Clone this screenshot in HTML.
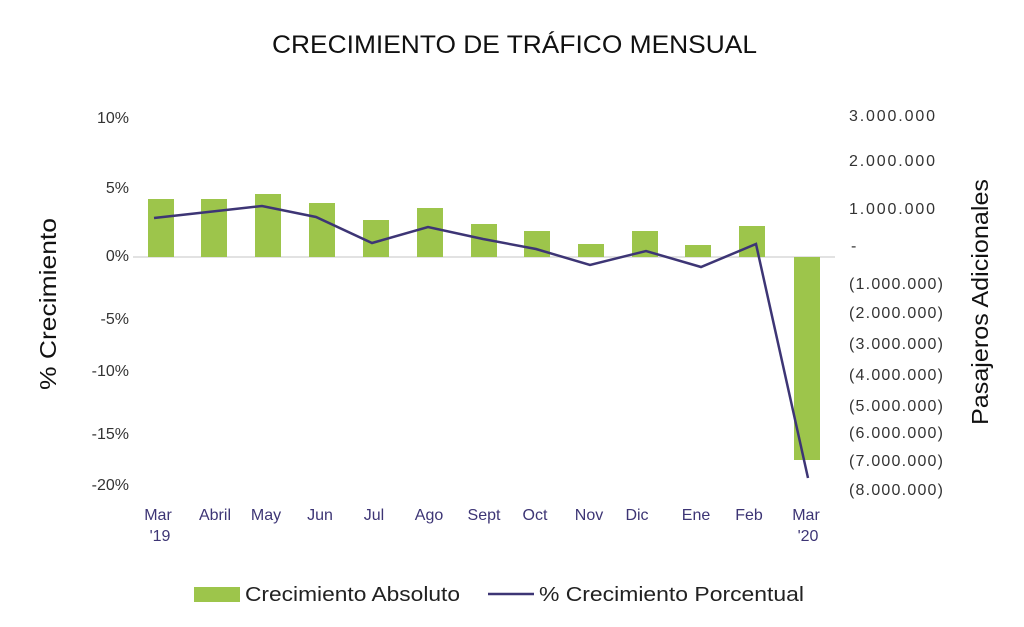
<!DOCTYPE html>
<html><head><meta charset="utf-8"><style>
html,body{margin:0;padding:0;background:#fff}
svg{display:block}
text{font-family:"Liberation Sans",sans-serif}
</style></head><body>
<svg width="1024" height="627" viewBox="0 0 1024 627" xmlns="http://www.w3.org/2000/svg">
<text x="272" y="53" font-size="25" fill="#111" textLength="485" lengthAdjust="spacingAndGlyphs">CRECIMIENTO DE TRÁFICO MENSUAL</text>
<g font-size="16" fill="#333" text-anchor="end">
<text x="129" y="123">10%</text>
<text x="129" y="193">5%</text>
<text x="129" y="261">0%</text>
<text x="129" y="324">-5%</text>
<text x="129" y="376">-10%</text>
<text x="129" y="439">-15%</text>
<text x="129" y="490">-20%</text>
</g>
<g font-size="16" fill="#333" lengthAdjust="spacingAndGlyphs">
<text x="849" y="121" textLength="86">3.000.000</text>
<text x="849" y="166" textLength="86">2.000.000</text>
<text x="849" y="214" textLength="86">1.000.000</text>
<text x="851" y="251">-</text>
<text x="849" y="289" textLength="94">(1.000.000)</text>
<text x="849" y="318" textLength="94">(2.000.000)</text>
<text x="849" y="349" textLength="94">(3.000.000)</text>
<text x="849" y="380" textLength="94">(4.000.000)</text>
<text x="849" y="411" textLength="94">(5.000.000)</text>
<text x="849" y="438" textLength="94">(6.000.000)</text>
<text x="849" y="466" textLength="94">(7.000.000)</text>
<text x="849" y="495" textLength="94">(8.000.000)</text>
</g>
<text transform="translate(56,304) rotate(-90)" text-anchor="middle" font-size="23" fill="#111" textLength="172" lengthAdjust="spacingAndGlyphs">% Crecimiento</text>
<text transform="translate(988,302) rotate(-90)" text-anchor="middle" font-size="23" fill="#111" textLength="246" lengthAdjust="spacingAndGlyphs">Pasajeros Adicionales</text>
<line x1="133" y1="257" x2="835" y2="257" stroke="#d9d9d9" stroke-width="1.5"/>
<g fill="#9dc54b">
<rect x="148" y="199" width="26" height="58"/>
<rect x="201" y="199" width="26" height="58"/>
<rect x="255" y="194" width="26" height="63"/>
<rect x="309" y="203" width="26" height="54"/>
<rect x="363" y="220" width="26" height="37"/>
<rect x="417" y="208" width="26" height="49"/>
<rect x="471" y="224" width="26" height="33"/>
<rect x="524" y="231" width="26" height="26"/>
<rect x="578" y="244" width="26" height="13"/>
<rect x="632" y="231" width="26" height="26"/>
<rect x="685" y="245" width="26" height="12"/>
<rect x="739" y="226" width="26" height="31"/>
<rect x="794" y="257" width="26" height="203"/>
</g>
<polyline fill="none" stroke="#3d3575" stroke-width="2.5" points="154,218 208,212 262,206 316,217 372,243 428,227 483,239 536,249 590,265 646,251 701,267 756,244 808,478"/>
<g font-size="16" fill="#3d3575" text-anchor="middle">
<text x="158" y="520">Mar</text><text x="160" y="541">'19</text>
<text x="215" y="520">Abril</text>
<text x="266" y="520">May</text>
<text x="320" y="520">Jun</text>
<text x="374" y="520">Jul</text>
<text x="429" y="520">Ago</text>
<text x="484" y="520">Sept</text>
<text x="535" y="520">Oct</text>
<text x="589" y="520">Nov</text>
<text x="637" y="520">Dic</text>
<text x="696" y="520">Ene</text>
<text x="749" y="520">Feb</text>
<text x="806" y="520">Mar</text><text x="808" y="541">'20</text>
</g>
<rect x="194" y="587" width="46" height="15" fill="#9dc54b"/>
<text x="245" y="601" font-size="20" fill="#222" textLength="215" lengthAdjust="spacingAndGlyphs">Crecimiento Absoluto</text>
<line x1="488" y1="594" x2="534" y2="594" stroke="#3d3575" stroke-width="2.5"/>
<text x="539" y="601" font-size="20" fill="#222" textLength="265" lengthAdjust="spacingAndGlyphs">% Crecimiento Porcentual</text>
</svg>
</body></html>
